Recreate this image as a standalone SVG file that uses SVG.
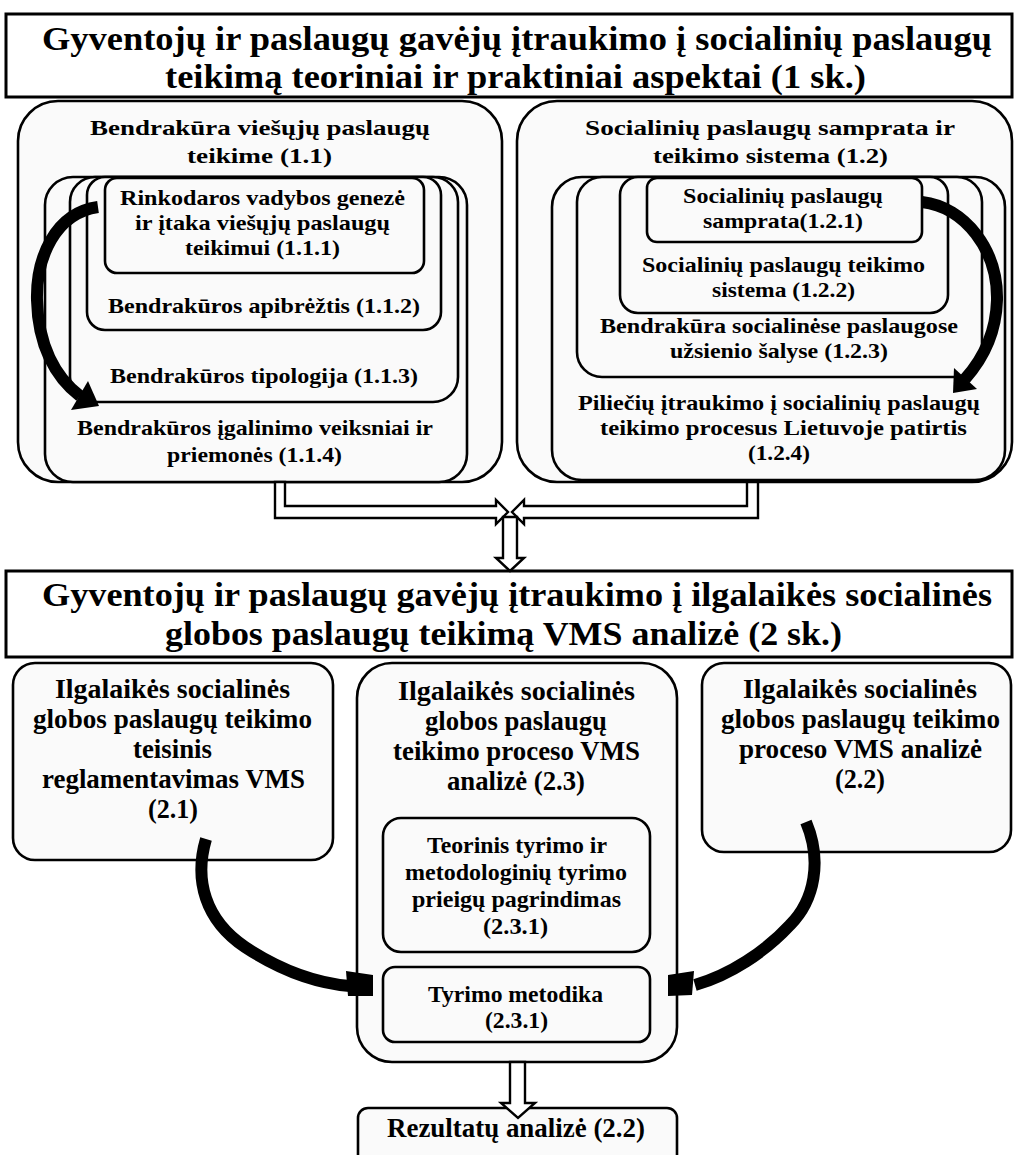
<svg xmlns="http://www.w3.org/2000/svg" width="1016" height="1155" viewBox="0 0 1016 1155">
  <style>
    text { font-family: "Liberation Serif", "Times New Roman", serif; font-weight: bold; fill: #000; }
    .h { font-size: 33px; }
    .t { font-size: 21px; }
    .b { font-size: 27px; }
    .s { font-size: 24px; }
    .hdr { fill: #fff; stroke: #000; stroke-width: 3; }
    .box { fill: #fafafa; stroke: #000; stroke-width: 2.6; }
    .blk { fill: #fff; stroke: #000; stroke-width: 2.4; stroke-linejoin: miter; }
    .crv { fill: none; stroke: #000; stroke-width: 12; stroke-linecap: butt; }
    .head { fill: #000; }
  </style>

  <rect width="1016" height="1155" fill="#fff"/>

  <!-- Chapter 1 header -->
  <g id="chapter1">
    <rect class="hdr" x="6" y="14" width="1006" height="83"/>
    <text class="h" x="42" y="50" textLength="950" lengthAdjust="spacingAndGlyphs">Gyventojų ir paslaugų gavėjų įtraukimo į socialinių paslaugų</text>
    <text class="h" x="165" y="88" textLength="701" lengthAdjust="spacingAndGlyphs">teikimą teoriniai ir praktiniai aspektai  (1 sk.)</text>
  </g>

  <!-- Section 1.1 -->
  <g id="sec-1-1">
    <rect class="box" x="18" y="101" width="484" height="381" rx="40"/>
    <text class="t" x="90" y="135" textLength="340" lengthAdjust="spacingAndGlyphs">Bendrakūra viešųjų paslaugų</text>
    <text class="t" x="187" y="163" textLength="145" lengthAdjust="spacingAndGlyphs">teikime (1.1)</text>
  </g>
  <g id="sec-1-1-4">
    <rect class="box" x="45" y="177" width="422" height="305" rx="28"/>
    <text class="t" x="77" y="435" textLength="356" lengthAdjust="spacingAndGlyphs">Bendrakūros įgalinimo veiksniai ir</text>
    <text class="t" x="167" y="462" textLength="175" lengthAdjust="spacingAndGlyphs">priemonės (1.1.4)</text>
  </g>
  <g id="sec-1-1-3">
    <rect class="box" x="70" y="177" width="388" height="225" rx="25"/>
    <text class="t" x="110" y="383" textLength="308" lengthAdjust="spacingAndGlyphs">Bendrakūros tipologija (1.1.3)</text>
  </g>
  <g id="sec-1-1-2">
    <rect class="box" x="87" y="177" width="354" height="153" rx="18"/>
    <text class="t" x="108" y="313" textLength="312" lengthAdjust="spacingAndGlyphs">Bendrakūros apibrėžtis (1.1.2)</text>
  </g>
  <g id="sec-1-1-1">
    <rect class="box" x="105" y="178" width="319" height="95" rx="12"/>
    <text class="t" x="120" y="205" textLength="285" lengthAdjust="spacingAndGlyphs">Rinkodaros vadybos genezė</text>
    <text class="t" x="135" y="230" textLength="255" lengthAdjust="spacingAndGlyphs">ir įtaka viešųjų paslaugų</text>
    <text class="t" x="185" y="255" textLength="155" lengthAdjust="spacingAndGlyphs">teikimui (1.1.1)</text>
  </g>

  <!-- Section 1.2 -->
  <g id="sec-1-2">
    <rect class="box" x="517" y="101" width="495" height="381" rx="40"/>
    <text class="t" x="585" y="135" textLength="370" lengthAdjust="spacingAndGlyphs">Socialinių paslaugų samprata ir</text>
    <text class="t" x="653" y="163" textLength="235" lengthAdjust="spacingAndGlyphs">teikimo sistema (1.2)</text>
  </g>
  <g id="sec-1-2-4">
    <rect class="box" x="552" y="177" width="453" height="303" rx="30"/>
    <text class="t" x="578" y="410" textLength="402" lengthAdjust="spacingAndGlyphs">Piliečių įtraukimo į socialinių paslaugų</text>
    <text class="t" x="600" y="435" textLength="367" lengthAdjust="spacingAndGlyphs">teikimo procesus Lietuvoje patirtis</text>
    <text class="t" x="748" y="460" textLength="62" lengthAdjust="spacingAndGlyphs">(1.2.4)</text>
  </g>
  <g id="sec-1-2-3">
    <rect class="box" x="577" y="177" width="405" height="200" rx="25"/>
    <text class="t" x="600" y="333" textLength="358" lengthAdjust="spacingAndGlyphs">Bendrakūra socialinėse paslaugose</text>
    <text class="t" x="670" y="358" textLength="218" lengthAdjust="spacingAndGlyphs">užsienio šalyse (1.2.3)</text>
  </g>
  <g id="sec-1-2-2">
    <rect class="box" x="620" y="177" width="328" height="136" rx="18"/>
    <text class="t" x="642" y="272" textLength="283" lengthAdjust="spacingAndGlyphs">Socialinių paslaugų teikimo</text>
    <text class="t" x="712" y="297" textLength="143" lengthAdjust="spacingAndGlyphs">sistema  (1.2.2)</text>
  </g>
  <g id="sec-1-2-1">
    <rect class="box" x="647" y="178" width="275" height="64" rx="10"/>
    <text class="t" x="683" y="203" textLength="200" lengthAdjust="spacingAndGlyphs">Socialinių paslaugų</text>
    <text class="t" x="703" y="228" textLength="160" lengthAdjust="spacingAndGlyphs">samprata(1.2.1)</text>
  </g>

  <!-- Chapter 2 header -->
  <g id="chapter2">
    <rect class="hdr" x="6" y="571" width="1006" height="86"/>
    <text class="h" x="42" y="606" textLength="950" lengthAdjust="spacingAndGlyphs">Gyventojų ir paslaugų gavėjų įtraukimo į ilgalaikės socialinės</text>
    <text class="h" x="165" y="645" textLength="677" lengthAdjust="spacingAndGlyphs">globos paslaugų teikimą VMS analizė  (2 sk.)</text>
  </g>

  <!-- Section 2.1 -->
  <g id="sec-2-1">
    <rect class="box" x="13" y="663" width="320" height="197" rx="22"/>
    <text class="b" x="55" y="698" textLength="235" lengthAdjust="spacingAndGlyphs">Ilgalaikės  socialinės</text>
    <text class="b" x="33" y="728" textLength="279" lengthAdjust="spacingAndGlyphs">globos paslaugų teikimo</text>
    <text class="b" x="133" y="758" textLength="79" lengthAdjust="spacingAndGlyphs">teisinis</text>
    <text class="b" x="42" y="788" textLength="263" lengthAdjust="spacingAndGlyphs">reglamentavimas VMS</text>
    <text class="b" x="148" y="818" textLength="50" lengthAdjust="spacingAndGlyphs">(2.1)</text>
  </g>

  <!-- Section 2.3 -->
  <g id="sec-2-3">
    <rect class="box" x="357" y="663" width="320" height="399" rx="35"/>
    <text class="b" x="398" y="700" textLength="237" lengthAdjust="spacingAndGlyphs">Ilgalaikės  socialinės</text>
    <text class="b" x="425" y="730" textLength="182" lengthAdjust="spacingAndGlyphs">globos paslaugų</text>
    <text class="b" x="393" y="760" textLength="247" lengthAdjust="spacingAndGlyphs">teikimo proceso VMS</text>
    <text class="b" x="447" y="790" textLength="138" lengthAdjust="spacingAndGlyphs">analizė (2.3)</text>
  </g>
  <g id="sec-2-3-1a">
    <rect class="box" x="383" y="818" width="267" height="134" rx="18"/>
    <text class="s" x="427" y="853" textLength="180" lengthAdjust="spacingAndGlyphs">Teorinis tyrimo ir</text>
    <text class="s" x="405" y="880" textLength="222" lengthAdjust="spacingAndGlyphs">metodologinių tyrimo</text>
    <text class="s" x="412" y="907" textLength="209" lengthAdjust="spacingAndGlyphs">prieigų pagrindimas</text>
    <text class="s" x="483" y="934" textLength="65" lengthAdjust="spacingAndGlyphs">(2.3.1)</text>
  </g>
  <g id="sec-2-3-1b">
    <rect class="box" x="383" y="967" width="267" height="75" rx="12"/>
    <text class="s" x="428" y="1002" textLength="175" lengthAdjust="spacingAndGlyphs">Tyrimo metodika</text>
    <text class="s" x="485" y="1028" textLength="63" lengthAdjust="spacingAndGlyphs">(2.3.1)</text>
  </g>

  <!-- Section 2.2 -->
  <g id="sec-2-2">
    <rect class="box" x="702" y="663" width="309" height="189" rx="22"/>
    <text class="b" x="743" y="698" textLength="234" lengthAdjust="spacingAndGlyphs">Ilgalaikės  socialinės</text>
    <text class="b" x="721" y="728" textLength="279" lengthAdjust="spacingAndGlyphs">globos paslaugų teikimo</text>
    <text class="b" x="739" y="758" textLength="243" lengthAdjust="spacingAndGlyphs">proceso VMS analizė</text>
    <text class="b" x="835" y="788" textLength="50" lengthAdjust="spacingAndGlyphs">(2.2)</text>
  </g>

  <!-- Results -->
  <g id="results">
    <rect class="box" x="358" y="1108" width="319" height="60" rx="10"/>
    <text class="b" x="387" y="1137" textLength="258" lengthAdjust="spacingAndGlyphs">Rezultatų analizė (2.2)</text>
  </g>

  <!-- Connectors -->
  <g id="connectors">
    <!-- curved arrows inside sections 1.1 and 1.2 -->
    <path class="crv" d="M98,207 C55,213 36,258 37,300 C38,345 55,377 80,396"/>
    <polygon class="head" points="88,381 99,406 71,410"/>
    <path class="crv" d="M922,202 C965,207 998,250 997,300 C996,335 982,360 965,379"/>
    <polygon class="head" points="977,389 953,393 954,368"/>

    <!-- curved arrows into "Tyrimo metodika" -->
    <path class="crv" d="M206,839 C194,880 205,920 245,947 C280,970 315,983 350,986"/>
    <polygon class="head" points="346,971 373,975 373,996 348,996"/>
    <path class="crv" d="M806,822 C822,860 815,900 790,925 C765,952 730,975 695,985"/>
    <polygon class="head" points="694,971 668,975 668,996 692,995"/>

    <!-- block arrows from chapter 1 sections to chapter 2 -->
    <polygon class="blk" points="275,482 275,518 496,518 496,524 508,512 496,500 496,506 285,506 285,482"/>
    <polygon class="blk" points="758,482 758,518 524,518 524,524 512,512 524,500 524,506 747,506 747,482"/>
    <polygon class="blk" points="503,517 517,517 517,558 524,558 510,571 496,558 503,558"/>

    <!-- block arrow to results -->
    <polygon class="blk" points="510,1062 525,1062 525,1103 535,1103 518,1118 501,1103 510,1103"/>
  </g>
</svg>
